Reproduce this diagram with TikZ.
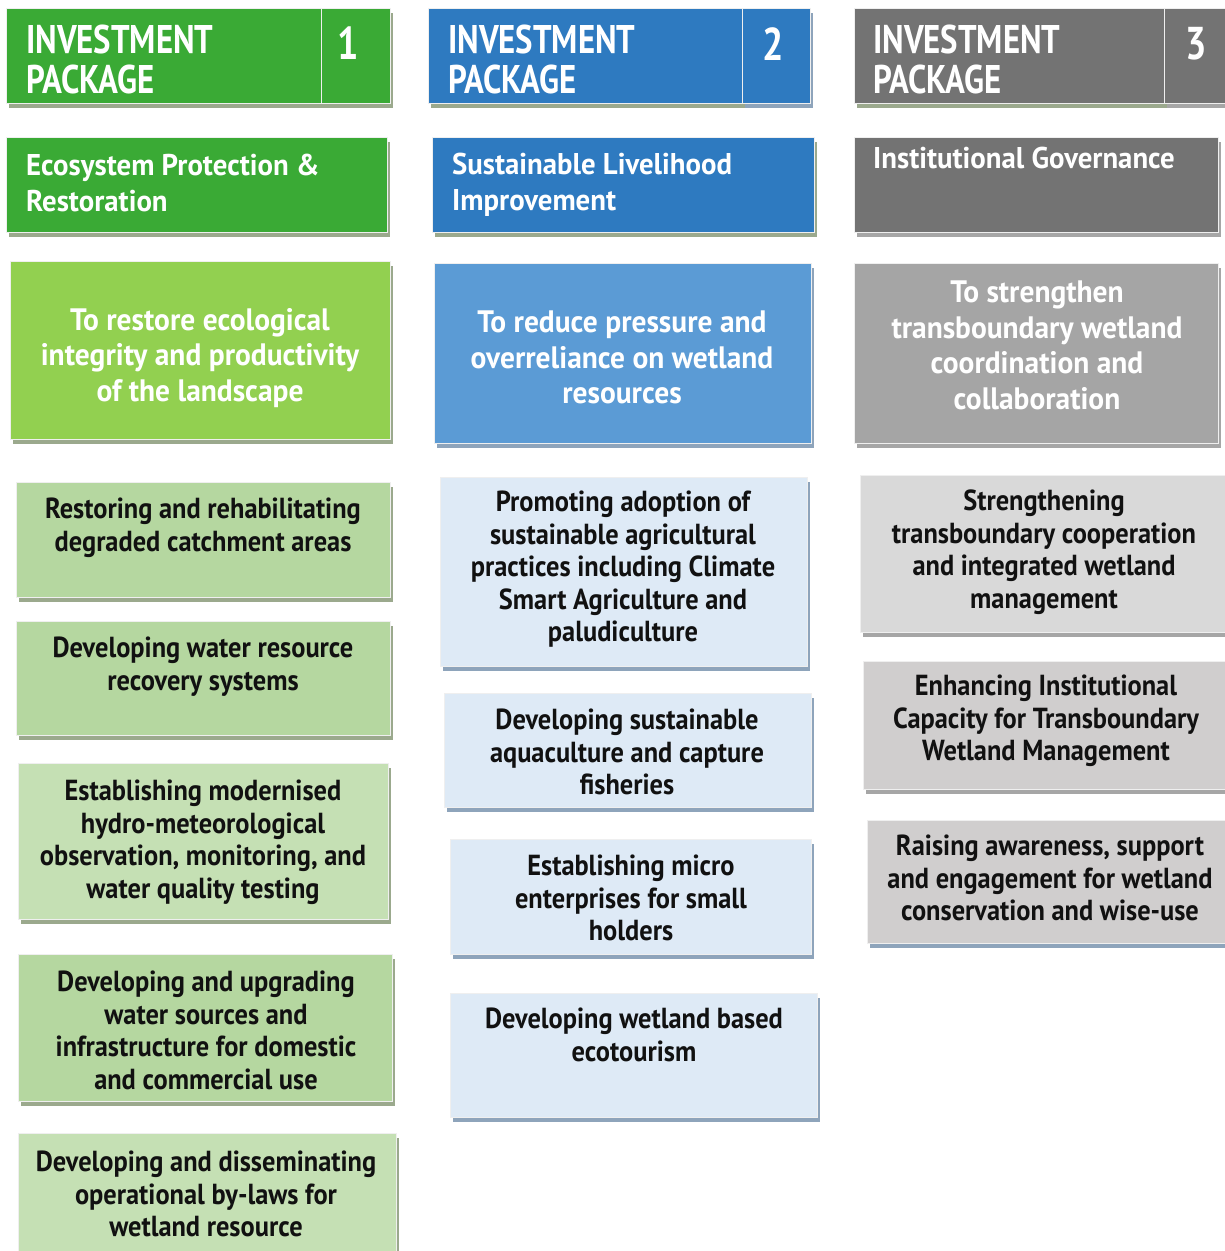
\documentclass[tikz,border=0pt]{standalone}
\usepackage{fontspec}
\newfontfamily\headfont{PT Sans}[FakeStretch=0.82]
\newfontfamily\subfont{PT Sans}[FakeStretch=0.96]
\newfontfamily\goalfont{PT Sans}[FakeStretch=0.95]
\newfontfamily\itemfont{PT Sans}[FakeStretch=0.91]
\usetikzlibrary{calc}

% palette
\definecolor{gdark}{HTML}{3AAA35}
\definecolor{gmid}{HTML}{92D050}
\definecolor{glight}{HTML}{B5D7A0}
\definecolor{glighter}{HTML}{C5E0B4}
\definecolor{gshade}{HTML}{9BA98D}
\definecolor{bdark}{HTML}{2E7AC0}
\definecolor{bmid}{HTML}{5B9BD5}
\definecolor{blight}{HTML}{DEEAF6}
\definecolor{bshade}{HTML}{8EA4BB}
\definecolor{kdark}{HTML}{737373}
\definecolor{kmid}{HTML}{A5A5A5}
\definecolor{klight}{HTML}{D9D9D9}
\definecolor{klighter}{HTML}{D0CECE}
\definecolor{kshade}{HTML}{A6A6A6}
\definecolor{edge}{HTML}{EFEFEF}
\definecolor{ink}{HTML}{111111}

\tikzset{
  panelbox/.style={draw=edge, line width=0.8pt, inner sep=0pt, outer sep=0pt, anchor=north west},
  headtxt/.style={text=white, inner sep=0pt, anchor=north west, align=left,
    font=\headfont\bfseries\fontsize{40}{40}\selectfont},
  numtxt/.style={text=white, inner sep=0pt, anchor=north,
    font=\headfont\bfseries\fontsize{46}{46}\selectfont},
  subtxt/.style={text=white, inner sep=0pt, anchor=north west, align=left,
    font=\subfont\bfseries\fontsize{30}{36}\selectfont},
  goaltxt/.style={text=white, inner sep=0pt, anchor=north, align=center,
    font=\goalfont\bfseries\fontsize{31}{35.5}\selectfont},
  itemtxt/.style={text=ink, inner sep=0pt, anchor=north, align=center,
    font=\itemfont\bfseries\fontsize{29}{32.5}\selectfont},
}

% \panel{name}{x1}{y1}{x2}{y2}{fill}{shadow colour}
\newcommand\panel[7]{%
  \fill[#7] (#2+3,#3+5) rectangle (#4+3,#5+5);
  \node[panelbox, fill=#6, minimum width=#4-#2, minimum height=#5-#3] (#1) at (#2,#3) {};
}

\begin{document}
\begin{tikzpicture}[x=1pt, y=-1pt]
\useasboundingbox (0,0) rectangle (1225,1251);
\fill[white] (0,0) rectangle (1225,1251);

% ---------------- package 1 ----------------
\panel{ip1}{6}{8}{321}{103}{gdark}{gshade}
\panel{ip1n}{321}{8}{390}{103}{gdark}{gshade}
\node[headtxt] (ip1t) at (26,25) {INVESTMENT\\PACKAGE};
\node[numtxt] (ip1nt) at (348,27) {1};

\panel{s1}{6}{137}{387}{232}{gdark}{gshade}
\node[subtxt] (s1t) at (26,154) {Ecosystem Protection \&\\Restoration};

\panel{o1}{10}{261}{390}{439}{gmid}{gshade}
\node[goaltxt] (o1t) at (200,308) {To restore ecological\\integrity and productivity\\of the landscape};

\panel{i11}{16}{482}{390}{597}{glight}{gshade}
\node[itemtxt] (i11t) at (203,498) {Restoring and rehabilitating\\degraded catchment areas};

\panel{i12}{16}{621}{390}{735}{glight}{gshade}
\node[itemtxt] (i12t) at (203,637) {Developing water resource\\recovery systems};

\panel{i13}{18}{763}{388}{919}{glighter}{gshade}
\node[itemtxt] (i13t) at (203,780) {Establishing modernised\\hydro-meteorological\\observation, monitoring, and\\water quality testing};

\panel{i14}{18}{954}{392}{1101}{glight}{gshade}
\node[itemtxt] (i14t) at (206,971) {Developing and upgrading\\water sources and\\infrastructure for domestic\\and commercial use};

\panel{i15}{18}{1133}{396}{1270}{glighter}{gshade}
\node[itemtxt] (i15t) at (206,1151) {Developing and disseminating\\operational by-laws for\\wetland resource};

% ---------------- package 2 ----------------
\fill[bshade] (431,13) rectangle (813,108);
\panel{ip2}{428}{8}{742}{103}{bdark}{gshade}
\panel{ip2n}{742}{8}{810}{103}{bdark}{bshade}
\node[headtxt] (ip2t) at (448,25) {INVESTMENT\\PACKAGE};
\node[numtxt] (ip2nt) at (773,27) {2};

\panel{s2}{432}{137}{814}{232}{bdark}{gshade}
\node[subtxt] (s2t) at (452,153) {Sustainable Livelihood\\Improvement};

\panel{o2}{434}{263}{811}{443}{bmid}{bshade}
\node[goaltxt] (o2t) at (622,311) {To reduce pressure and\\overreliance on wetland\\resources};

\panel{i21}{440}{477}{807}{666}{blight}{bshade}
\node[itemtxt] (i21t) at (623,491) {Promoting adoption of\\sustainable agricultural\\practices including Climate\\Smart Agriculture and\\paludiculture};

\panel{i22}{444}{693}{811}{807}{blight}{bshade}
\node[itemtxt] (i22t) at (627,709) {Developing sustainable\\aquaculture and capture\\fisheries};

\panel{i23}{450}{839}{811}{954}{blight}{bshade}
\node[itemtxt] (i23t) at (631,855) {Establishing micro\\enterprises for small\\holders};

\panel{i24}{450}{993}{817}{1117}{blight}{bshade}
\node[itemtxt] (i24t) at (634,1008) {Developing wetland based\\ecotourism};

% ---------------- package 3 ----------------
\panel{ip3}{854}{8}{1164}{103}{kdark}{gshade}
\panel{ip3n}{1164}{8}{1240}{103}{kdark}{kshade}
\node[headtxt] (ip3t) at (873,25) {INVESTMENT\\PACKAGE};
\node[numtxt] (ip3nt) at (1196,27) {3};

\panel{s3}{854}{137}{1218}{232}{kdark}{kshade}
\node[subtxt] (s3t) at (873,147) {Institutional Governance};

\panel{o3}{854}{263}{1218}{443}{kmid}{kshade}
\node[goaltxt] (o3t) at (1037,281) {To strengthen\\transboundary wetland\\coordination and\\collaboration};

\panel{i31}{860}{475}{1240}{632}{klight}{kshade}
\node[itemtxt] (i31t) at (1044,490) {Strengthening\\transboundary cooperation\\and integrated wetland\\management};

\panel{i32}{863}{661}{1240}{789}{klighter}{kshade}
\node[itemtxt] (i32t) at (1046,675) {Enhancing Institutional\\Capacity for Transboundary\\Wetland Management};

\panel{i33}{867}{820}{1240}{943}{klighter}{bshade}
\node[itemtxt] (i33t) at (1050,835) {Raising awareness, support\\and engagement for wetland\\conservation and wise-use};
\end{tikzpicture}
\end{document}
